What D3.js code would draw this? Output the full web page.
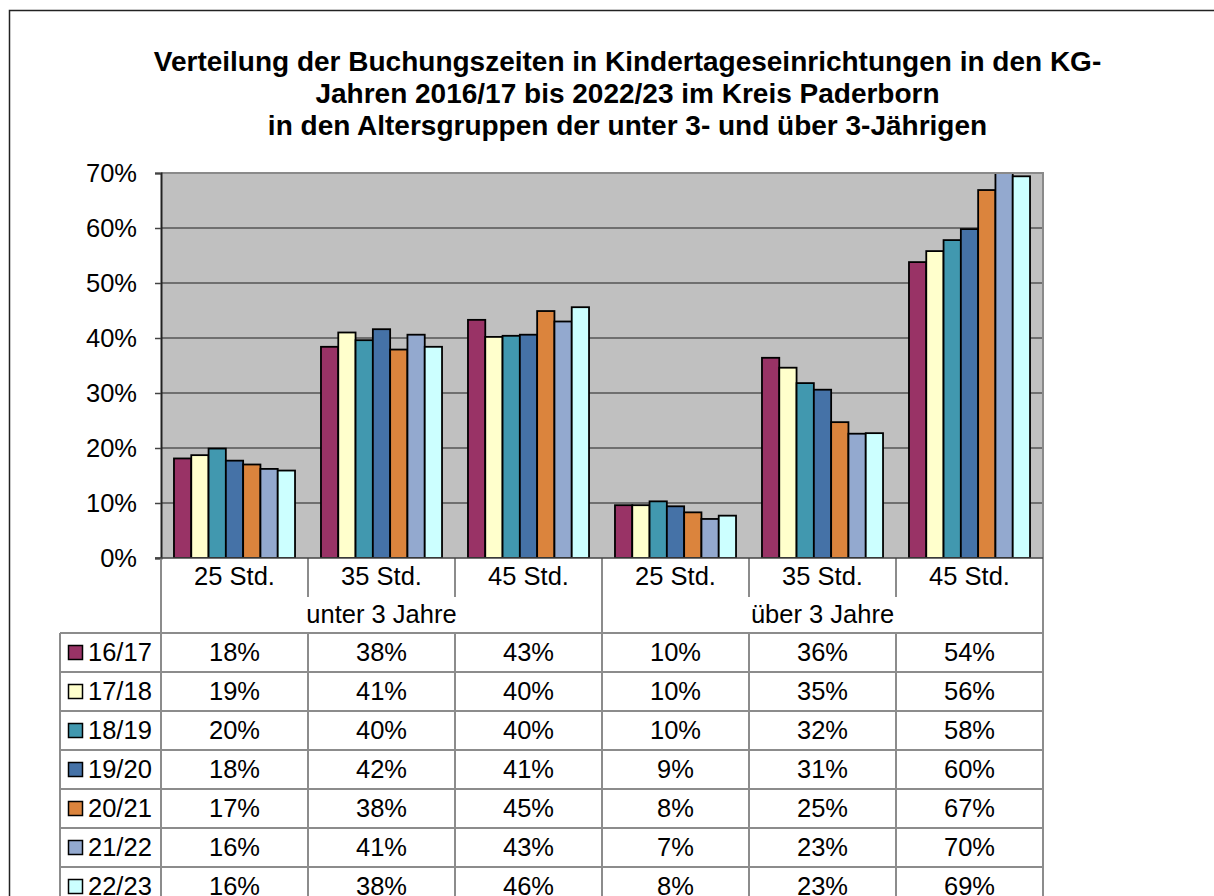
<!DOCTYPE html>
<html>
<head>
<meta charset="utf-8">
<script src="https://cdn.jsdelivr.net/npm/d3@7"></script>
<style>
  body { margin: 0; background: #fff; }
  text { font-family: "Liberation Sans", Arial, sans-serif; }
</style>
</head>
<body>
<div id="cont"></div>
<script>
// Data
var titleLines = [
    "Verteilung der Buchungszeiten in Kindertageseinrichtungen in den KG-",
    "Jahren 2016/17 bis 2022/23 im Kreis Paderborn",
    "in den Altersgruppen der unter 3- und über 3-Jährigen"
];
var hourLabels = ["25 Std.", "35 Std.", "45 Std."];
var ageGroups = ["unter 3 Jahre", "über 3 Jahre"];
var seriesNames = ["16/17", "17/18", "18/19", "19/20", "20/21", "21/22", "22/23"];
var seriesColors = ["#993366", "#ffffcc", "#4198af", "#4572a7", "#db843d", "#93a9cf", "#ccffff"];

// values per year: unter 3 (25, 35, 45 Std.), über 3 (25, 35, 45 Std.)
var v1617 = [0.181, 0.384, 0.433, 0.096, 0.364, 0.538];
var v1718 = [0.187, 0.410, 0.402, 0.096, 0.346, 0.558];
var v1819 = [0.199, 0.396, 0.404, 0.103, 0.318, 0.578];
var v1920 = [0.177, 0.416, 0.406, 0.094, 0.306, 0.598];
var v2021 = [0.170, 0.379, 0.449, 0.083, 0.247, 0.669];
var v2122 = [0.162, 0.406, 0.430, 0.071, 0.226, 0.702];
var v2223 = [0.159, 0.384, 0.456, 0.077, 0.227, 0.694];
var seriesValues = [v1617, v1718, v1819, v1920, v2021, v2122, v2223];

// Layout
var W = 1214, H = 896;
var plotL = 161, plotR = 1043, plotT = 173, plotB = 558;
var rowTop = 633, rowH = 39;
var legendL = 60;
var fontSize = 25.5;

// categories: one per age group x hour
var cats = [];
ageGroups.forEach(function(a, ai) {
    hourLabels.forEach(function(h, hi) { cats.push({ key: ai + "-" + hi, age: ai, hour: h }); });
});

var svg = d3.select("#cont").append("svg")
    .attr("width", W)
    .attr("height", H);

var x0 = d3.scaleBand()
    .domain(cats.map(function(c) { return c.key; }))
    .range([plotL, plotR])
    .padding(0);

var x1 = d3.scaleBand()
    .domain(seriesNames)
    .range([0, x0.bandwidth()])
    .paddingInner(0)
    .paddingOuter(0.75);

var y = d3.scaleLinear()
    .domain([0, 0.7])
    .range([plotB, plotT]);

var pct = d3.format(".0%");

// outer frame
svg.append("path")
    .attr("d", "M9.5," + H + "V10.5H" + W)
    .attr("fill", "none")
    .attr("stroke", "#222")
    .attr("stroke-width", 1.5);

// title
svg.append("g").selectAll("text")
    .data(titleLines)
    .enter().append("text")
    .attr("x", 627.5)
    .attr("y", function(d, i) { return 71 + i * 32; })
    .attr("text-anchor", "middle")
    .attr("font-size", 28)
    .attr("font-weight", "bold")
    .text(function(d) { return d; });

// plot background
svg.append("rect")
    .attr("x", plotL).attr("y", plotT)
    .attr("width", plotR - plotL).attr("height", plotB - plotT)
    .attr("fill", "#c0c0c0");

// gridlines
svg.append("g").selectAll("line")
    .data(y.ticks(7).slice(1))
    .enter().append("line")
    .attr("x1", plotL).attr("x2", plotR)
    .attr("y1", function(d) { return y(d); })
    .attr("y2", function(d) { return y(d); })
    .attr("stroke", "#555")
    .attr("stroke-width", 1.4);

// clip for bars
svg.append("clipPath").attr("id", "plotclip")
    .append("rect")
    .attr("x", plotL).attr("y", plotT)
    .attr("width", plotR - plotL).attr("height", plotB - plotT);

// bars
var barG = svg.append("g").attr("clip-path", "url(#plotclip)");
seriesNames.forEach(function(s, si) {
    barG.append("g")
        .selectAll("rect")
        .data(seriesValues[si])
        .enter().append("rect")
        .attr("x", function(d, i) { return x0(cats[i].key) + x1(s); })
        .attr("y", function(d) { return y(d); })
        .attr("width", x1.bandwidth())
        .attr("height", function(d) { return y(0) - y(d); })
        .attr("fill", seriesColors[si])
        .attr("stroke", "#000")
        .attr("stroke-width", 1.8);
});

// plot border top/right
svg.append("path")
    .attr("d", "M" + plotL + "," + plotT + "H" + plotR + "V" + plotB)
    .attr("fill", "none")
    .attr("stroke", "#8a8a8a")
    .attr("stroke-width", 2);

// y axis
var yAxis = svg.append("g")
    .attr("transform", "translate(" + plotL + ",0)")
    .call(d3.axisLeft(y).ticks(7).tickFormat(pct).tickSize(6).tickPadding(18));
yAxis.select(".domain").attr("stroke", "#222").attr("stroke-width", 2);
yAxis.selectAll(".tick line").attr("stroke", "#444").attr("stroke-width", 1.5);
yAxis.selectAll("text")
    .attr("font-family", "Liberation Sans, Arial, sans-serif")
    .attr("font-size", fontSize)
    .attr("fill", "#000");

// table
var tableG = svg.append("g");
var nRows = seriesNames.length;
var tableBottom = rowTop + rowH * nRows;
var lineCol = "#8c8c8c";

// horizontal lines
d3.range(nRows + 1).forEach(function(r) {
    tableG.append("line")
        .attr("x1", legendL).attr("x2", plotR)
        .attr("y1", rowTop + r * rowH).attr("y2", rowTop + r * rowH)
        .attr("stroke", lineCol).attr("stroke-width", 2);
});

// vertical lines
var bounds = cats.map(function(c) { return x0(c.key); }).concat([plotR]);
bounds.forEach(function(bx, i) {
    var full = (i % hourLabels.length === 0);
    if (full) {
        tableG.append("line")
            .attr("x1", bx).attr("x2", bx)
            .attr("y1", plotB).attr("y2", tableBottom)
            .attr("stroke", lineCol).attr("stroke-width", 2);
    } else {
        tableG.append("line")
            .attr("x1", bx).attr("x2", bx)
            .attr("y1", plotB).attr("y2", 597)
            .attr("stroke", lineCol).attr("stroke-width", 2);
        tableG.append("line")
            .attr("x1", bx).attr("x2", bx)
            .attr("y1", rowTop).attr("y2", tableBottom)
            .attr("stroke", lineCol).attr("stroke-width", 2);
    }
});
tableG.append("line")
    .attr("x1", legendL).attr("x2", legendL)
    .attr("y1", rowTop).attr("y2", tableBottom)
    .attr("stroke", lineCol).attr("stroke-width", 2);

// x axis line
svg.append("line")
    .attr("x1", plotL - 6).attr("x2", plotR)
    .attr("y1", plotB).attr("y2", plotB)
    .attr("stroke", "#444").attr("stroke-width", 1.5);

// hour labels
tableG.selectAll("text.hour")
    .data(cats)
    .enter().append("text")
    .attr("class", "hour")
    .attr("x", function(d) { return x0(d.key) + x0.bandwidth() / 2; })
    .attr("y", 576)
    .attr("dy", "0.35em")
    .attr("text-anchor", "middle")
    .attr("font-size", fontSize)
    .text(function(d) { return d.hour; });

// age group labels
tableG.selectAll("text.age")
    .data(ageGroups)
    .enter().append("text")
    .attr("class", "age")
    .attr("x", function(d, i) {
        return x0(cats[i * 3].key) + x0.bandwidth() * 1.5;
    })
    .attr("y", 614)
    .attr("dy", "0.35em")
    .attr("text-anchor", "middle")
    .attr("font-size", fontSize)
    .text(function(d) { return d; });

// rows
seriesNames.forEach(function(s, si) {
    var cy = rowTop + rowH * si + rowH / 2;
    tableG.append("rect")
        .attr("x", 68.5).attr("y", cy - 7)
        .attr("width", 14).attr("height", 14)
        .attr("fill", seriesColors[si])
        .attr("stroke", "#000")
        .attr("stroke-width", 1.5);
    tableG.append("text")
        .attr("x", 88)
        .attr("y", cy)
        .attr("dy", "0.35em")
        .attr("font-size", fontSize)
        .text(s);
    tableG.append("g").selectAll("text")
        .data(seriesValues[si])
        .enter().append("text")
        .attr("x", function(d, i) { return x0(cats[i].key) + x0.bandwidth() / 2; })
        .attr("y", cy)
        .attr("dy", "0.35em")
        .attr("text-anchor", "middle")
        .attr("font-size", fontSize)
        .text(function(d) { return pct(d); });
});
</script>
</body>
</html>
